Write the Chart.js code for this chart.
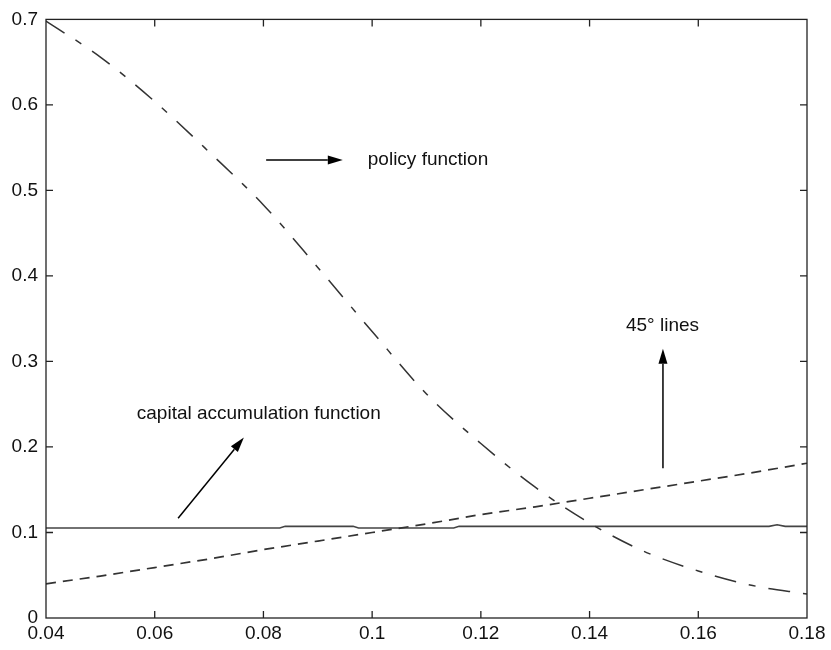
<!DOCTYPE html>
<html>
<head>
<meta charset="utf-8">
<script src="https://cdn.jsdelivr.net/npm/chart.js@4"></script>
<style>
  html, body { margin: 0; padding: 0; background: #fff; }
  #wrap { width: 831px; height: 650px; }
</style>
</head>
<body>
<div id="wrap"><canvas id="chart" width="831" height="650"></canvas></div>
<script>
// data
const gridX = [0.04, 0.05, 0.06, 0.07, 0.08, 0.09, 0.10, 0.11, 0.12, 0.13, 0.14, 0.15, 0.16, 0.17, 0.18];
const policyY = [0.698, 0.656, 0.604, 0.545, 0.483, 0.410, 0.335, 0.262, 0.204, 0.153, 0.111, 0.078, 0.055, 0.038, 0.028];
const lineY = [0.040, 0.049, 0.059, 0.069, 0.080, 0.090, 0.100, 0.110, 0.121, 0.130, 0.140, 0.150, 0.160, 0.170, 0.181];
const capitalX = [0.04, 0.0830, 0.0840, 0.0965, 0.0975, 0.1150, 0.1160, 0.1730, 0.1745, 0.1760, 0.18];
const capitalY = [0.1053, 0.1053, 0.1072, 0.1072, 0.1053, 0.1053, 0.1072, 0.1072, 0.1090, 0.1072, 0.1072];
const xTicks = ['0.04', '0.06', '0.08', '0.1', '0.12', '0.14', '0.16', '0.18'];
const yTicks = ['0', '0.1', '0.2', '0.3', '0.4', '0.5', '0.6', '0.7'];

// annotations (data coordinates)
const arrows = [
  { from: [0.0805, 0.5356], to: [0.0946, 0.5356] },
  { from: [0.0643, 0.1167], to: [0.0764, 0.211] },
  { from: [0.1535, 0.175], to: [0.1535, 0.315] }
];
const labels = [
  { text: 'policy function', at: [0.0992, 0.5356] },
  { text: 'capital accumulation function', at: [0.0567, 0.239] },
  { text: '45\u00B0 lines', at: [0.1467, 0.342] }
];

const FAMILY = '"Liberation Sans", Arial, sans-serif';
const INK = '#222';

const pts = (xs, ys) => xs.map((x, i) => ({ x: x, y: ys[i] }));

// frame, inward ticks, arrows and texts
const decor = {
  id: 'decor',
  afterDatasetsDraw(chart) {
    const { ctx, chartArea: a, scales: { x, y } } = chart;
    ctx.save();
    ctx.strokeStyle = INK;
    ctx.lineWidth = 1.3;
    ctx.strokeRect(a.left, a.top, a.right - a.left, a.bottom - a.top);

    ctx.beginPath();
    x.ticks.forEach(t => {
      const px = x.getPixelForValue(t.value);
      if (px <= a.left + 1 || px >= a.right - 1) return;
      ctx.moveTo(px, a.bottom); ctx.lineTo(px, a.bottom - 7);
      ctx.moveTo(px, a.top); ctx.lineTo(px, a.top + 7);
    });
    y.ticks.forEach(t => {
      const py = y.getPixelForValue(t.value);
      if (py <= a.top + 1 || py >= a.bottom - 1) return;
      ctx.moveTo(a.left, py); ctx.lineTo(a.left + 7, py);
      ctx.moveTo(a.right, py); ctx.lineTo(a.right - 7, py);
    });
    ctx.stroke();

    // arrows
    ctx.fillStyle = '#000';
    ctx.strokeStyle = '#000';
    ctx.lineWidth = 1.5;
    arrows.forEach(ar => {
      const x0 = x.getPixelForValue(ar.from[0]), y0 = y.getPixelForValue(ar.from[1]);
      const x1 = x.getPixelForValue(ar.to[0]), y1 = y.getPixelForValue(ar.to[1]);
      const ang = Math.atan2(y1 - y0, x1 - x0);
      const hl = 15, hw = 4.5;
      const bx = x1 - hl * Math.cos(ang), by = y1 - hl * Math.sin(ang);
      ctx.beginPath();
      ctx.moveTo(x0, y0); ctx.lineTo(bx, by);
      ctx.stroke();
      ctx.beginPath();
      ctx.moveTo(x1, y1);
      ctx.lineTo(bx + hw * Math.sin(ang), by - hw * Math.cos(ang));
      ctx.lineTo(bx - hw * Math.sin(ang), by + hw * Math.cos(ang));
      ctx.closePath();
      ctx.fill();
    });

    // texts
    ctx.font = '19px ' + FAMILY;
    ctx.fillStyle = '#111';
    ctx.textAlign = 'left';
    ctx.textBaseline = 'middle';
    labels.forEach(l => {
      ctx.fillText(l.text, x.getPixelForValue(l.at[0]), y.getPixelForValue(l.at[1]));
    });
    ctx.restore();
  }
};

new Chart(document.getElementById('chart'), {
  type: 'line',
  data: {
    datasets: [
      {
        label: 'policy function',
        data: pts(gridX, policyY),
        borderColor: '#333',
        borderWidth: 1.5,
        borderDash: [22, 13, 7, 13],
        pointRadius: 0,
        cubicInterpolationMode: 'monotone'
      },
      {
        label: '45 degree line',
        data: pts(gridX, lineY),
        borderColor: '#333',
        borderWidth: 1.7,
        borderDash: [10, 7],
        pointRadius: 0
      },
      {
        label: 'capital accumulation function',
        data: pts(capitalX, capitalY),
        borderColor: '#444',
        borderWidth: 1.6,
        pointRadius: 0
      }
    ]
  },
  options: {
    responsive: false,
    animation: false,
    layout: { padding: { top: 18, right: 24, left: 0, bottom: 0 } },
    plugins: {
      legend: { display: false },
      tooltip: { enabled: false }
    },
    scales: {
      x: {
        type: 'linear',
        min: 0.04,
        max: 0.18,
        afterFit: s => { s.height = 32; },
        afterBuildTicks: s => { s.ticks = xTicks.map(v => ({ value: +v })); },
        grid: { display: false, drawTicks: false },
        border: { display: false },
        ticks: {
          padding: 4,
          color: '#111',
          font: { family: FAMILY, size: 19 },
          maxRotation: 0,
          callback: (v, i) => xTicks[i]
        }
      },
      y: {
        min: 0,
        max: 0.7,
        afterFit: s => { s.width = 46; },
        afterBuildTicks: s => { s.ticks = yTicks.map(v => ({ value: +v })); },
        grid: { display: false, drawTicks: false },
        border: { display: false },
        ticks: {
          padding: 8,
          color: '#111',
          font: { family: FAMILY, size: 19 },
          callback: (v, i) => yTicks[i]
        }
      }
    }
  },
  plugins: [decor]
});
</script>
</body>
</html>
